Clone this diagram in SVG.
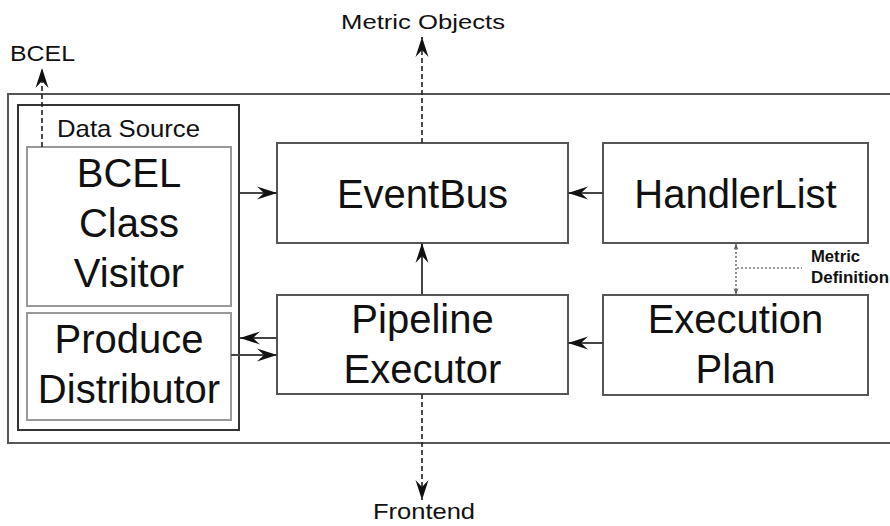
<svg xmlns="http://www.w3.org/2000/svg" width="890" height="526" viewBox="0 0 890 526">
<style>
.big{font-family:"Liberation Sans",Arial,sans-serif;font-size:40px;fill:#111;text-anchor:middle}
.lbl{font-family:"Liberation Sans",Arial,sans-serif;fill:#111}
.box{fill:#fff;stroke:#555;stroke-width:2}
.inner{fill:#fff;stroke:#999;stroke-width:2}
.conn{fill:none;stroke:#444;stroke-width:2}
.dash{fill:none;stroke:#222;stroke-width:1.6;stroke-dasharray:5 3}
.dot{fill:none;stroke:#777;stroke-width:1.6;stroke-dasharray:2 2}
</style>
<defs>
<marker id="ah" markerUnits="userSpaceOnUse" viewBox="-21 -8 22 16" markerWidth="22" markerHeight="16" refX="0" refY="0" orient="auto">
<path d="M0,0 L-20,-6.5 L-13,0 L-20,6.5 Z" fill="#111"/>
</marker>
<marker id="sm" markerUnits="userSpaceOnUse" viewBox="-7 -4 8 8" markerWidth="8" markerHeight="8" refX="0" refY="0" orient="auto-start-reverse">
<path d="M0,0 L-6,-2.5 L-4,0 L-6,2.5 Z" fill="#555"/>
</marker>
</defs>
<rect width="890" height="526" fill="#fff"/>
<g id="frame">
<rect x="8" y="94" width="900" height="349" fill="none" stroke="#555" stroke-width="2"/>
</g>
<g id="data-source">
<rect x="18" y="105" width="221" height="325" fill="#fff" stroke="#333" stroke-width="2"/>
<text class="lbl" x="57" y="137" font-size="24" textLength="143" lengthAdjust="spacingAndGlyphs">Data Source</text>
</g>
<g id="bcel-visitor">
<rect class="inner" x="27" y="147" width="204" height="159"/>
<text class="big" x="129" y="187">BCEL</text>
<text class="big" x="129" y="237">Class</text>
<text class="big" x="129" y="287">Visitor</text>
</g>
<g id="produce-distributor">
<rect class="inner" x="27" y="313" width="204" height="107"/>
<text class="big" x="129" y="353">Produce</text>
<text class="big" x="129" y="403">Distributor</text>
</g>
<g id="eventbus">
<rect class="box" x="277" y="143" width="291" height="100"/>
<text class="big" x="422.5" y="208">EventBus</text>
</g>
<g id="pipeline-executor">
<rect class="box" x="277" y="295" width="291" height="99"/>
<text class="big" x="422.5" y="333">Pipeline</text>
<text class="big" x="422.5" y="383">Executor</text>
</g>
<g id="handlerlist">
<rect class="box" x="603" y="143" width="265" height="100"/>
<text class="big" x="735.5" y="208">HandlerList</text>
</g>
<g id="execution-plan">
<rect class="box" x="603" y="295" width="265" height="100"/>
<text class="big" x="735.5" y="333">Execution</text>
<text class="big" x="735.5" y="383">Plan</text>
</g>
<g id="connectors">
<path class="conn" d="M240,193 H277" marker-end="url(#ah)"/>
<path class="conn" d="M603,193 H568" marker-end="url(#ah)"/>
<path class="conn" d="M422,295 V243" marker-end="url(#ah)"/>
<path class="conn" d="M603,343 H568" marker-end="url(#ah)"/>
<path class="conn" d="M277,338 H240" marker-end="url(#ah)"/>
<path class="conn" d="M231,355 H277" marker-end="url(#ah)"/>
<path class="dash" d="M422,143 V37" marker-end="url(#ah)"/>
<path class="dash" d="M42,147 V68" marker-end="url(#ah)"/>
<path class="dash" d="M422,394 V500" marker-end="url(#ah)"/>
<path class="dot" d="M736,244 V294" marker-start="url(#sm)" marker-end="url(#sm)"/>
<path class="dot" d="M737,268 H802" stroke="#999"/>
</g>
<g id="labels">
<text class="lbl" x="10" y="61" font-size="22" textLength="65" lengthAdjust="spacingAndGlyphs">BCEL</text>
<text class="lbl" x="341" y="29" font-size="21" textLength="164" lengthAdjust="spacingAndGlyphs">Metric Objects</text>
<text class="lbl" x="373" y="519" font-size="22" textLength="102" lengthAdjust="spacingAndGlyphs">Frontend</text>
<text class="lbl" x="811" y="262" font-size="16" font-weight="bold" textLength="49" lengthAdjust="spacingAndGlyphs">Metric</text>
<text class="lbl" x="811" y="283" font-size="16" font-weight="bold" textLength="78" lengthAdjust="spacingAndGlyphs">Definition</text>
</g>
</svg>
